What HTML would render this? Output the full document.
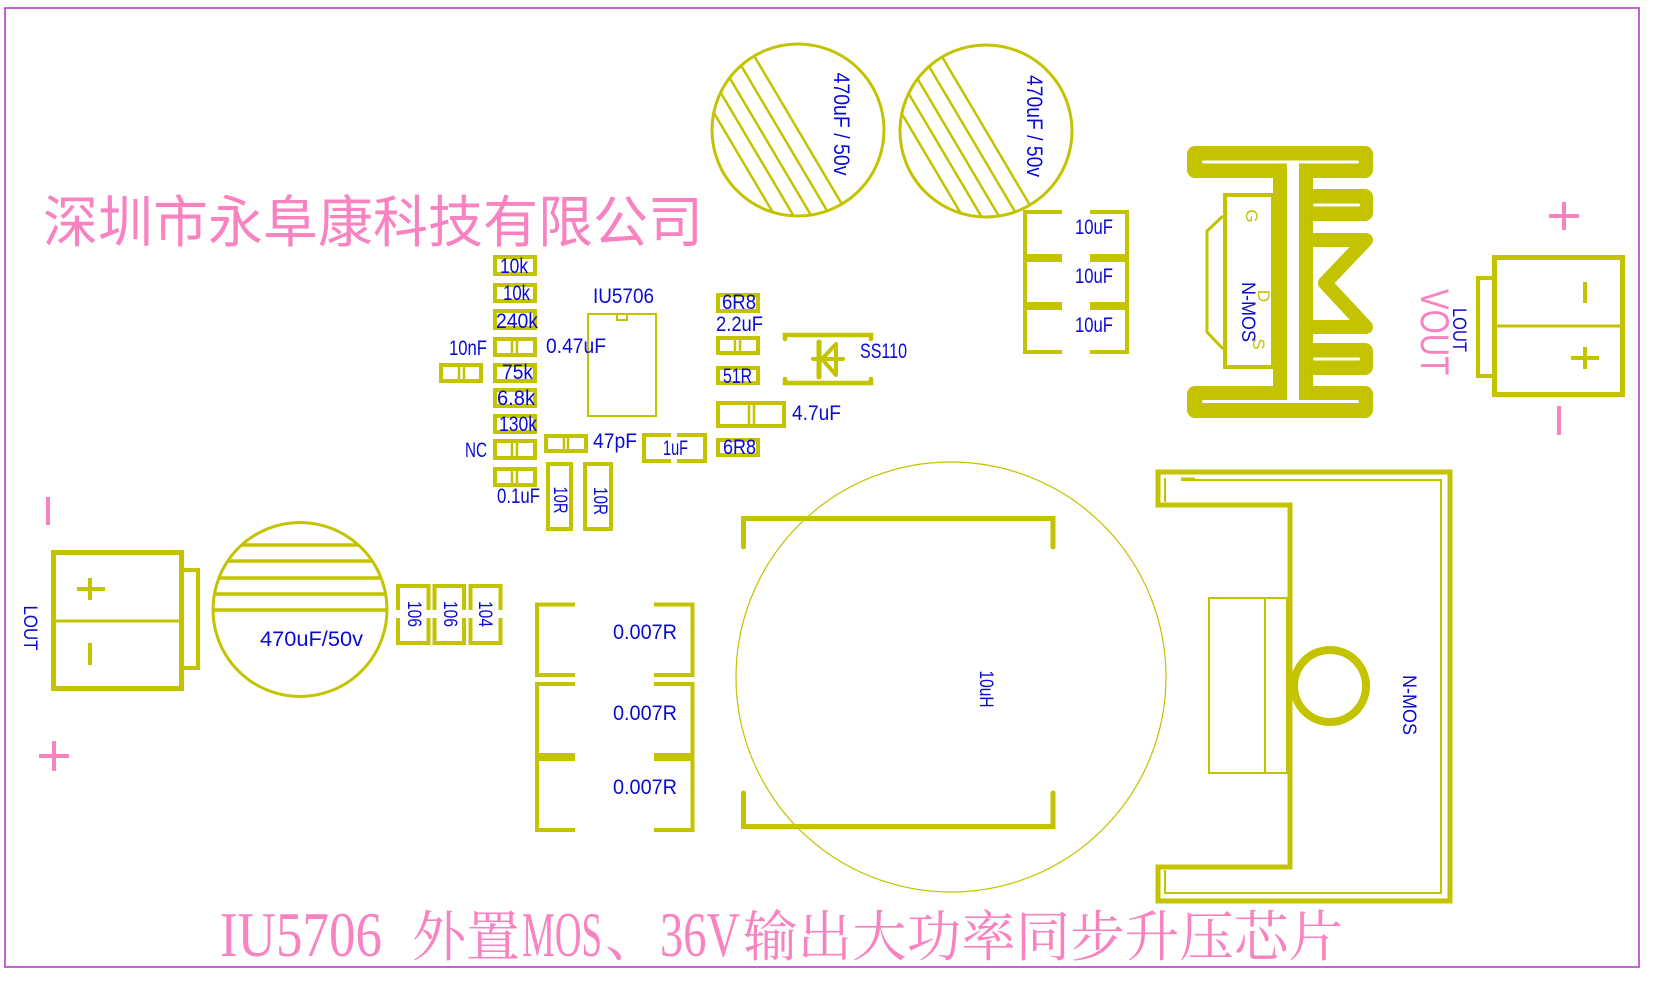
<!DOCTYPE html>
<html><head><meta charset="utf-8"><style>
html,body{margin:0;padding:0;background:#fff;}
svg{display:block;}
.b{font-family:"Liberation Sans",sans-serif;fill:#0a0ad2;}
</style></head><body>
<svg width="1657" height="991" viewBox="0 0 1657 991" xmlns="http://www.w3.org/2000/svg">
<defs>
<clipPath id="c1"><circle cx="798" cy="130" r="85"/></clipPath>
<clipPath id="c2"><circle cx="986" cy="131" r="85"/></clipPath>
<clipPath id="c3"><circle cx="300" cy="609.5" r="86"/></clipPath>
</defs>
<rect x="0" y="0" width="1657" height="991" fill="#fff"/>
<!-- border -->
<rect x="5" y="8" width="1634" height="959" fill="none" stroke="#b53cc8" stroke-width="1.6"/>

<!-- title -->
<text x="43" y="242" font-family="'Noto Sans CJK SC','WenQuanYi Zen Hei',sans-serif" font-size="56" fill="#f883c0" textLength="660" lengthAdjust="spacingAndGlyphs">深圳市永阜康科技有限公司</text>

<!-- top electrolytic caps -->
<g stroke="#c3c300" fill="none">
<circle cx="798" cy="130" r="86" stroke-width="3"/>
<circle cx="986" cy="131" r="86" stroke-width="3"/>
<circle cx="300" cy="609.5" r="87" stroke-width="3"/>
<g clip-path="url(#c1)" stroke-width="2.5">
<line x1="711" y1="-17" x2="885" y2="277"/>
<line x1="697" y1="-9" x2="871" y2="285"/>
<line x1="683" y1="-1" x2="857" y2="293"/>
<line x1="670" y1="7" x2="844" y2="301"/>
<line x1="656" y1="15" x2="830" y2="309"/>
</g>
<g clip-path="url(#c2)" stroke-width="2.5">
<line x1="899" y1="-16" x2="1073" y2="278"/>
<line x1="885" y1="-8" x2="1059" y2="286"/>
<line x1="871" y1="0" x2="1045" y2="294"/>
<line x1="858" y1="8" x2="1032" y2="302"/>
<line x1="844" y1="16" x2="1018" y2="310"/>
</g>
<g clip-path="url(#c3)" stroke-width="3.5">
<line x1="200" y1="610" x2="400" y2="610"/>
<line x1="200" y1="594" x2="400" y2="594"/>
<line x1="200" y1="578" x2="400" y2="578"/>
<line x1="200" y1="561" x2="400" y2="561"/>
<line x1="200" y1="545" x2="400" y2="545"/>
</g>
</g>
<g class="b" font-size="22">
<text transform="translate(842,124) rotate(90)" x="0" y="8" text-anchor="middle" textLength="103" lengthAdjust="spacingAndGlyphs">470uF / 50v</text>
<text transform="translate(1035,126) rotate(90)" x="0" y="8" text-anchor="middle" textLength="102" lengthAdjust="spacingAndGlyphs">470uF / 50v</text>
</g>
<text class="b" x="260" y="646" font-size="21" textLength="103" lengthAdjust="spacingAndGlyphs">470uF/50v</text>

<!-- 10uF caps -->
<g stroke="#c3c300" stroke-width="4" fill="none">
<path d="M1062,212 H1025 V256 H1062 M1090,212 H1127 V256 H1090"/>
<path d="M1062,260 H1025 V304 H1062 M1090,260 H1127 V304 H1090"/>
<path d="M1062,308 H1025 V352 H1062 M1090,308 H1127 V352 H1090"/>
</g>
<g class="b" font-size="21">
<text x="1075" y="234" textLength="38" lengthAdjust="spacingAndGlyphs">10uF</text>
<text x="1075" y="283" textLength="38" lengthAdjust="spacingAndGlyphs">10uF</text>
<text x="1075" y="332" textLength="38" lengthAdjust="spacingAndGlyphs">10uF</text>
</g>

<!-- small components -->
<g stroke="#c3c300" stroke-width="4" fill="none">
<rect x="495" y="257" width="40" height="17"/>
<rect x="495" y="285" width="40" height="16"/>
<rect x="495" y="311" width="40" height="17"/>
<rect x="495" y="339" width="40" height="16"/>
<rect x="441" y="365" width="40" height="16"/>
<rect x="495" y="365" width="40" height="16"/>
<rect x="495" y="390" width="40" height="16"/>
<rect x="495" y="416" width="40" height="16"/>
<rect x="495" y="441" width="40" height="17"/>
<rect x="495" y="469" width="40" height="16"/>
<rect x="546" y="436" width="40" height="15"/>
<rect x="548" y="464" width="23" height="65"/>
<rect x="585" y="464" width="26" height="65"/>
<rect x="718" y="295" width="40" height="16"/>
<rect x="718" y="338" width="40" height="15"/>
<rect x="718" y="368" width="40" height="15"/>
<rect x="718" y="403" width="66" height="23"/>
<rect x="718" y="440" width="40" height="15"/>
<path d="M671,435 H644 V461 H671 M677,435 H705 V461 H677"/>
</g>
<g stroke="#c3c300" stroke-width="2.5" fill="none">
<path d="M512,341 V353 M517,341 V353"/>
<path d="M459,367 V379 M464,367 V379"/>
<path d="M512,443 V456 M517,443 V456"/>
<path d="M512,471 V483 M517,471 V483"/>
<path d="M564,438 V449 M568,438 V449"/>
<path d="M735,340 V351 M740,340 V351"/>
<path d="M749,405 V424 M754,405 V424"/>
</g>
<g stroke="#c3c300" stroke-width="2" fill="none">
<!-- IC -->
<rect x="588" y="314" width="68" height="102"/>
<path d="M617,314 V320 H627 V314"/>
</g>
<!-- diode -->
<g stroke="#c3c300" stroke-width="4.5" fill="none" stroke-linecap="round">
<path d="M785,339 V335 H871 V339"/>
<path d="M785,379 V383 H871 V379"/>
<line x1="819" y1="342" x2="819" y2="377" stroke-width="5"/>
<polygon points="822,359 836,344 836,375" stroke-width="4" stroke-linejoin="round"/>
<line x1="813" y1="359" x2="843" y2="359" stroke-width="4"/>
</g>
<g class="b" font-size="21">
<text x="500" y="273" textLength="28" lengthAdjust="spacingAndGlyphs">10k</text>
<text x="503" y="300" textLength="27" lengthAdjust="spacingAndGlyphs">10k</text>
<text x="496" y="328" textLength="42" lengthAdjust="spacingAndGlyphs">240k</text>
<text x="502" y="379" textLength="31" lengthAdjust="spacingAndGlyphs">75k</text>
<text x="497" y="405" textLength="38" lengthAdjust="spacingAndGlyphs">6.8k</text>
<text x="499" y="431" textLength="38" lengthAdjust="spacingAndGlyphs">130k</text>
<text x="449" y="355" textLength="38" lengthAdjust="spacingAndGlyphs">10nF</text>
<text x="546" y="353" textLength="60" lengthAdjust="spacingAndGlyphs">0.47uF</text>
<text x="593" y="303" textLength="61" lengthAdjust="spacingAndGlyphs">IU5706</text>
<text x="465" y="457" textLength="22" lengthAdjust="spacingAndGlyphs">NC</text>
<text x="497" y="503" textLength="43" lengthAdjust="spacingAndGlyphs">0.1uF</text>
<text x="593" y="448" textLength="44" lengthAdjust="spacingAndGlyphs">47pF</text>
<text x="663" y="455" textLength="25" lengthAdjust="spacingAndGlyphs">1uF</text>
<text x="722" y="309" textLength="34" lengthAdjust="spacingAndGlyphs">6R8</text>
<text x="716" y="331" textLength="47" lengthAdjust="spacingAndGlyphs">2.2uF</text>
<text x="723" y="383" textLength="29" lengthAdjust="spacingAndGlyphs">51R</text>
<text x="792" y="420" textLength="49" lengthAdjust="spacingAndGlyphs">4.7uF</text>
<text x="723" y="454" textLength="33" lengthAdjust="spacingAndGlyphs">6R8</text>
<text x="860" y="358" textLength="47" lengthAdjust="spacingAndGlyphs">SS110</text>
</g>
<g class="b" font-size="19">
<text transform="translate(561,500) rotate(90)" x="0" y="7" text-anchor="middle" textLength="27" lengthAdjust="spacingAndGlyphs">10R</text>
<text transform="translate(601,501) rotate(90)" x="0" y="7" text-anchor="middle" textLength="28" lengthAdjust="spacingAndGlyphs">10R</text>
<text transform="translate(415,614) rotate(90)" x="0" y="7" text-anchor="middle" textLength="26" lengthAdjust="spacingAndGlyphs">106</text>
<text transform="translate(451,614) rotate(90)" x="0" y="7" text-anchor="middle" textLength="26" lengthAdjust="spacingAndGlyphs">106</text>
<text transform="translate(486,614) rotate(90)" x="0" y="7" text-anchor="middle" textLength="26" lengthAdjust="spacingAndGlyphs">104</text>
</g>

<!-- 106/104 caps -->
<g stroke="#c3c300" stroke-width="4" fill="none">
<path d="M398,610 V586 H428.5 V610 M398,618 V643 H428.5 V618"/>
<path d="M434.5,610 V586 H464 V610 M434.5,618 V643 H464 V618"/>
<path d="M470.5,610 V586 H500.5 V610 M470.5,618 V643 H500.5 V618"/>
</g>

<!-- left connector -->
<g stroke="#c3c300" fill="none">
<rect x="53.5" y="552.5" width="128" height="136" stroke-width="5"/>
<line x1="54" y1="621" x2="181" y2="621" stroke-width="3"/>
<path d="M183,570 H198 V668 H183" stroke-width="4"/>
<path d="M77,589 H105 M90,578 V600" stroke-width="4"/>
<path d="M90,643 V665" stroke-width="4"/>
</g>
<g stroke="#f883c0" stroke-width="4" fill="none">
<path d="M48,497 V525"/>
<path d="M39,756 H69 M54,741 V771"/>
<path d="M1549,216 H1579 M1564,202 V230"/>
<path d="M1559,406 V435"/>
</g>
<text class="b" font-size="19" transform="translate(31,628) rotate(90)" x="0" y="7" text-anchor="middle" textLength="45" lengthAdjust="spacingAndGlyphs">LOUT</text>

<!-- 0.007R -->
<g stroke="#c3c300" stroke-width="4" fill="none">
<path d="M575,604.5 H537 V675 H575 M654,604.5 H692.5 V675 H654"/>
<path d="M575,684 H537 V755 H575 M654,684 H692.5 V755 H654"/>
<path d="M575,759 H537 V830 H575 M654,759 H692.5 V830 H654"/>
</g>
<g class="b" font-size="21">
<text x="613" y="639" textLength="64" lengthAdjust="spacingAndGlyphs">0.007R</text>
<text x="613" y="720" textLength="64" lengthAdjust="spacingAndGlyphs">0.007R</text>
<text x="613" y="794" textLength="64" lengthAdjust="spacingAndGlyphs">0.007R</text>
</g>

<!-- inductor -->
<circle cx="951" cy="677" r="215" fill="none" stroke="#c3c300" stroke-width="1.2"/>
<g stroke="#c3c300" stroke-width="5" fill="none" stroke-linecap="round">
<path d="M743.5,547 V518.5 H1053 V547"/>
<path d="M743.5,793 V826.5 H1053 V793"/>
</g>
<text class="b" font-size="19" transform="translate(987,689) rotate(90)" x="0" y="7" text-anchor="middle" textLength="37" lengthAdjust="spacingAndGlyphs">10uH</text>

<!-- right N-MOS -->
<g stroke="#c3c300" fill="none">
<polygon points="1158,472 1450,472 1450,901 1158,901 1158,867 1290,867 1290,505 1158,505" stroke-width="5"/>
<path d="M1181,480 H1441 V893 H1165 V870" stroke-width="2"/>
<path d="M1165,478 V502" stroke-width="2"/>
<path d="M1181,479 H1195" stroke-width="3"/>
<rect x="1209" y="598" width="78" height="175" stroke-width="2"/>
<line x1="1265" y1="598" x2="1265" y2="773" stroke-width="2"/>
<circle cx="1330" cy="686" r="36" stroke-width="8"/>
</g>
<text class="b" font-size="19" transform="translate(1410,705) rotate(90)" x="0" y="7" text-anchor="middle" textLength="60" lengthAdjust="spacingAndGlyphs">N-MOS</text>

<!-- heatsink MOS -->
<g stroke="#c3c300" fill="none">
<rect x="1225" y="195" width="48" height="172" stroke-width="4"/>
<polyline points="1223,216 1207,231 1207,332 1223,349" stroke-width="3"/>
</g>
<g fill="#c3c300">
<rect x="1187" y="146" width="186" height="32" rx="8"/>
<rect x="1187" y="386" width="186" height="32" rx="8"/>
<rect x="1273" y="150" width="40" height="262"/>
<rect x="1300" y="189" width="73" height="32" rx="8"/>
<rect x="1300" y="343" width="73" height="32" rx="8"/>
</g>
<polyline points="1306,240 1366,240 1325,283 1366,327 1306,327" fill="none" stroke="#c3c300" stroke-width="14" stroke-linejoin="round" stroke-linecap="round"/>
<g fill="#fff">
<rect x="1202" y="160.5" width="157" height="3" rx="1.5"/>
<rect x="1202" y="400" width="157" height="3" rx="1.5"/>
<rect x="1287" y="162" width="12" height="240"/>
<rect x="1313" y="203.5" width="47" height="3" rx="1.5"/>
<rect x="1313" y="357.5" width="47" height="3" rx="1.5"/>
</g>
<g font-family="'Liberation Sans',sans-serif" font-size="17" fill="#c3c300">
<text transform="translate(1252,216) rotate(90)" x="0" y="6" text-anchor="middle">G</text>
<text transform="translate(1264,296) rotate(90)" x="0" y="6" text-anchor="middle">D</text>
<text transform="translate(1259,344) rotate(90)" x="0" y="6" text-anchor="middle">S</text>
</g>
<text class="b" font-size="19" transform="translate(1249,312) rotate(90)" x="0" y="7" text-anchor="middle" textLength="60" lengthAdjust="spacingAndGlyphs">N-MOS</text>

<!-- VOUT connector -->
<g stroke="#c3c300" fill="none">
<rect x="1494.5" y="257.5" width="128" height="137" stroke-width="5"/>
<line x1="1495" y1="326" x2="1622" y2="326" stroke-width="3"/>
<path d="M1494,278 H1478 V376 H1494" stroke-width="4"/>
<path d="M1585,282 V303" stroke-width="4"/>
<path d="M1571,358 H1599 M1585,347 V369" stroke-width="4"/>
</g>
<text class="b" font-size="19" transform="translate(1460,330) rotate(90)" x="0" y="7" text-anchor="middle" textLength="44" lengthAdjust="spacingAndGlyphs">LOUT</text>
<text font-family="'Liberation Sans',sans-serif" font-size="40" fill="#f883c0" transform="translate(1435,332) rotate(90)" x="0" y="14" text-anchor="middle" textLength="86" lengthAdjust="spacingAndGlyphs">VOUT</text>

<!-- bottom title -->
<g fill="#f883c0">
<text x="220" y="956" font-family="'Liberation Serif',serif" font-size="64" textLength="162" lengthAdjust="spacingAndGlyphs">IU5706</text>
<text x="412" y="956" font-family="'Noto Serif CJK SC','Noto Sans CJK SC',serif" font-size="55" textLength="108" lengthAdjust="spacingAndGlyphs">外置</text>
<text x="522" y="956" font-family="'Liberation Serif',serif" font-size="64" textLength="80" lengthAdjust="spacingAndGlyphs">MOS</text>
<text x="605" y="956" font-family="'Noto Serif CJK SC','Noto Sans CJK SC',serif" font-size="55">、</text>
<text x="660" y="956" font-family="'Liberation Serif',serif" font-size="64" textLength="80" lengthAdjust="spacingAndGlyphs">36V</text>
<text x="743" y="956" font-family="'Noto Serif CJK SC','Noto Sans CJK SC',serif" font-size="55" textLength="600" lengthAdjust="spacingAndGlyphs">输出大功率同步升压芯片</text>
</g>
</svg>
</body></html>
